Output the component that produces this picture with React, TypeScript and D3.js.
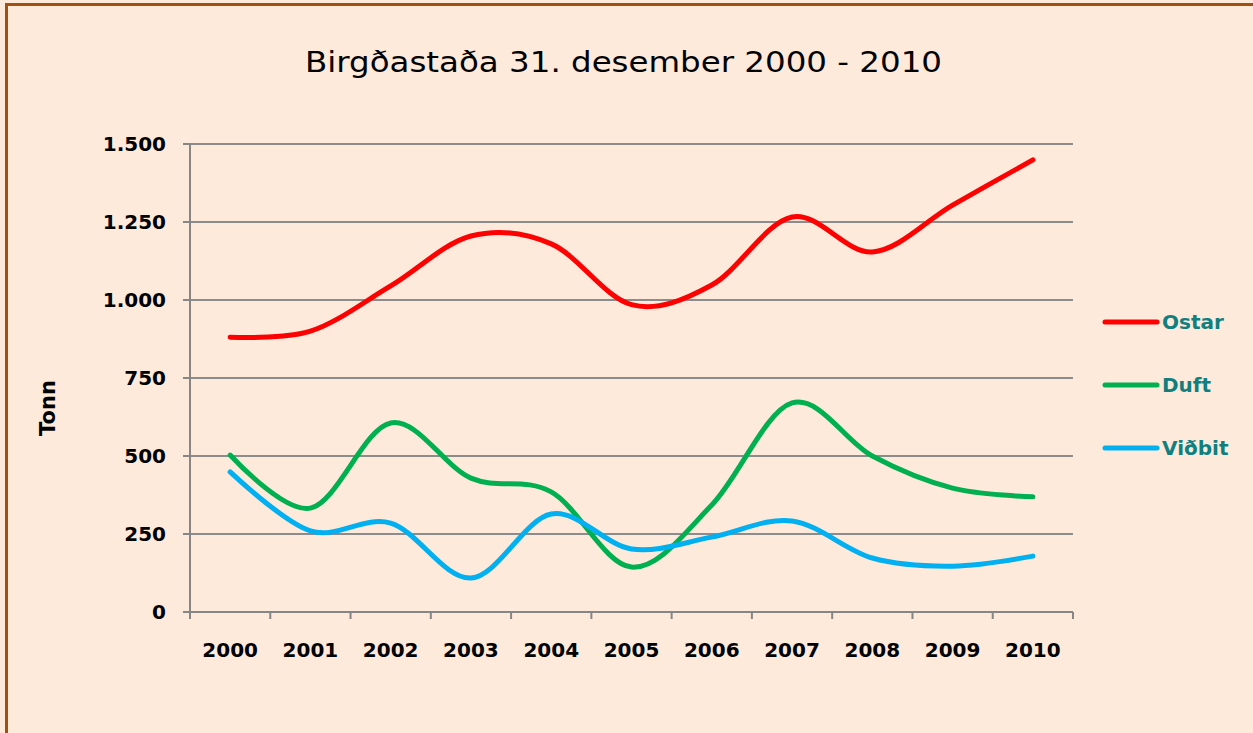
import React, { useEffect, useRef } from 'react'
import * as d3 from 'd3'

const years = ['2000', '2001', '2002', '2003', '2004', '2005', '2006', '2007', '2008', '2009', '2010']
const ostar = [881, 900, 1045, 1205, 1180, 985, 1048, 1266, 1154, 1304, 1449]
const duft = [503, 333, 606, 429, 385, 144, 343, 670, 500, 397, 369]
const vidbit = [449, 260, 285, 109, 314, 202, 240, 292, 173, 147, 179]
const yTicks = [0, 250, 500, 750, 1000, 1250, 1500]

const series = [
  { name: 'Ostar', values: ostar, color: '#FF0000' },
  { name: 'Duft', values: duft, color: '#00B050' },
  { name: 'Viðbit', values: vidbit, color: '#00B0F0' },
]

const W = 1253
const H = 733
const font = '"DejaVu Sans", Verdana, sans-serif'

export default function App() {
  const svgRef = useRef<SVGSVGElement>(null)

  useEffect(() => {
    const svg = d3.select(svgRef.current)
    svg.selectAll('*').remove()

    svg.append('rect').attr('width', W).attr('height', H).attr('fill', '#FDEADA')
    // border (left + top)
    svg.append('rect').attr('x', 5).attr('y', 3).attr('width', W).attr('height', 3).attr('fill', '#A0500F')
    svg.append('rect').attr('x', 5).attr('y', 3).attr('width', 3).attr('height', H).attr('fill', '#A0500F')

    const left = 190
    const right = 1073
    const top = 144
    const bottom = 612

    const x = d3.scaleBand().domain(years).range([left, right])
    const y = d3.scaleLinear().domain([0, 1500]).range([bottom, top])

    svg
      .append('text')
      .attr('x', 305)
      .attr('y', 72)
      .attr('font-family', font)
      .attr('font-size', 29)
      .attr('textLength', 637)
      .attr('lengthAdjust', 'spacingAndGlyphs')
      .attr('fill', '#000')
      .text('Birgðastaða 31. desember 2000 - 2010')

    // gridlines
    svg
      .append('g')
      .selectAll('line')
      .data(yTicks.filter((d) => d > 0))
      .enter()
      .append('line')
      .attr('x1', left)
      .attr('x2', right)
      .attr('y1', (d) => y(d))
      .attr('y2', (d) => y(d))
      .attr('stroke', '#8C8C8C')
      .attr('stroke-width', 2)

    // y axis
    const ya = svg.append('g')
    ya.append('line').attr('x1', left).attr('x2', left).attr('y1', top).attr('y2', bottom).attr('stroke', '#868686').attr('stroke-width', 2)
    ya.selectAll('.tk')
      .data(yTicks)
      .enter()
      .append('line')
      .attr('x1', left - 7)
      .attr('x2', left)
      .attr('y1', (d) => y(d))
      .attr('y2', (d) => y(d))
      .attr('stroke', '#868686')
      .attr('stroke-width', 2)
    ya.selectAll('text')
      .data(yTicks)
      .enter()
      .append('text')
      .attr('x', 166)
      .attr('y', (d) => y(d) + 7)
      .attr('text-anchor', 'end')
      .attr('font-family', font)
      .attr('font-weight', 'bold')
      .attr('font-size', 20)
      .text((d) => d3.format(',')(d).replace(/,/g, '.'))

    // x axis
    const xa = svg.append('g')
    xa.append('line').attr('x1', left - 7).attr('x2', right).attr('y1', bottom).attr('y2', bottom).attr('stroke', '#868686').attr('stroke-width', 2)
    const edges = years.map((d) => x(d) as number).concat([right])
    xa.selectAll('.tk')
      .data(edges)
      .enter()
      .append('line')
      .attr('x1', (d) => d)
      .attr('x2', (d) => d)
      .attr('y1', bottom)
      .attr('y2', bottom + 7)
      .attr('stroke', '#868686')
      .attr('stroke-width', 2)
    xa.selectAll('text')
      .data(years)
      .enter()
      .append('text')
      .attr('x', (d) => (x(d) as number) + x.bandwidth() / 2)
      .attr('y', 657)
      .attr('text-anchor', 'middle')
      .attr('font-family', font)
      .attr('font-weight', 'bold')
      .attr('font-size', 20)
      .text((d) => d)

    svg
      .append('text')
      .attr('transform', 'translate(55,408) rotate(-90)')
      .attr('text-anchor', 'middle')
      .attr('font-family', font)
      .attr('font-weight', 'bold')
      .attr('font-size', 21)
      .text('Tonn')

    const line = d3
      .line<number>()
      .x((_, i) => (x(years[i]) as number) + x.bandwidth() / 2)
      .y((d) => y(d))
      .curve(d3.curveCardinal.tension(0))

    series.forEach((s, i) => {
      svg
        .append('path')
        .attr('d', line(s.values))
        .attr('fill', 'none')
        .attr('stroke', s.color)
        .attr('stroke-width', 5)
        .attr('stroke-linecap', 'round')

      const ly = 322 + i * 63
      svg.append('line').attr('x1', 1105).attr('x2', 1157).attr('y1', ly).attr('y2', ly).attr('stroke', s.color).attr('stroke-width', 5).attr('stroke-linecap', 'round')
      svg
        .append('text')
        .attr('x', 1162)
        .attr('y', ly + 7)
        .attr('font-family', font)
        .attr('font-weight', 'bold')
        .attr('font-size', 20)
        .attr('fill', '#0F7F7F')
        .text(s.name)
    })
  }, [])

  return <svg ref={svgRef} width={W} height={H} style={{ position: 'absolute', left: 0, top: 0 }}></svg>
}
